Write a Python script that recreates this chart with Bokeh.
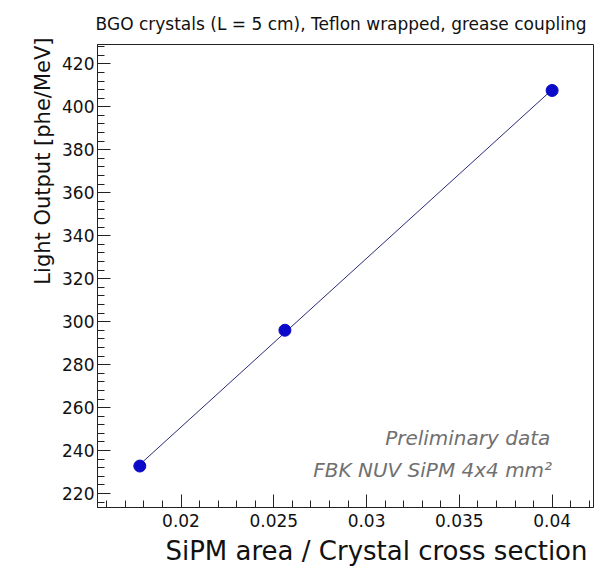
import numpy as np
from bokeh.plotting import figure
from bokeh.models import Range1d, FixedTicker, Label, Title
from bokeh.embed import file_html
from bokeh.resources import INLINE

# ---- data ----
area_ratio = [0.01778, 0.0256, 0.04]
light_output = [232.8, 296.0, 407.6]

x_tick_values = [0.02, 0.025, 0.03, 0.035, 0.04]
x_tick_labels = ["0.02", "0.025", "0.03", "0.035", "0.04"]
y_tick_values = [220, 240, 260, 280, 300, 320, 340, 360, 380, 400, 420]
y_tick_labels = [str(v) for v in y_tick_values]

subtitle = "BGO crystals (L = 5 cm), Teflon wrapped, grease coupling"
x_title = "SiPM area / Crystal cross section"
y_title = "Light Output [phe/MeV]"
note_lines = ["Preliminary data", "FBK NUV SiPM 4x4 mm\u00b2"]

FONT = "DejaVu Sans"

p = figure(width=610, height=569,
           x_range=Range1d(0.0155, 0.04223), y_range=Range1d(213.5, 429.0),
           output_backend="svg", toolbar_location=None,
           min_border_left=97, min_border_right=17,
           min_border_top=44, min_border_bottom=62)

p.background_fill_color = "white"
p.border_fill_color = "white"
p.outline_line_color = "#222222"
p.outline_line_width = 1
p.xgrid.visible = False
p.ygrid.visible = False

x_minor = [round(0.016 + 0.001 * i, 3) for i in range(27)]
y_minor = [216 + 4 * i for i in range(54)]

p.xaxis.ticker = FixedTicker(ticks=x_tick_values, minor_ticks=x_minor)
p.yaxis.ticker = FixedTicker(ticks=y_tick_values, minor_ticks=y_minor)
p.xaxis.major_label_overrides = {v: s for v, s in zip(x_tick_values, x_tick_labels)}
p.yaxis.major_label_overrides = {v: s for v, s in zip(y_tick_values, y_tick_labels)}

for ax in (p.xaxis, p.yaxis):
    ax.major_tick_in = 13
    ax.major_tick_out = 0
    ax.minor_tick_in = 7
    ax.minor_tick_out = 0
    ax.major_tick_line_color = "#222222"
    ax.minor_tick_line_color = "#222222"
    ax.axis_line_color = "#222222"
    ax.major_label_text_font = FONT
    ax.major_label_text_font_size = "17px"
    ax.major_label_text_color = "#111111"
    ax.axis_label = None
p.xaxis.major_label_standoff = 6
p.yaxis.major_label_standoff = 3

# fit line (least squares through the measured points)
slope, intercept = np.polyfit(area_ratio, light_output, 1)
fx = [min(area_ratio), max(area_ratio)]
fy = [slope * v + intercept for v in fx]
p.line(fx, fy, line_color="#2a2a7a", line_width=1)

p.scatter(area_ratio, light_output, size=12, marker="circle",
          fill_color="#0a0ac8", line_color="#0a0ac8")

# titles in the side panels
p.title.text = subtitle
p.title.align = "right"
p.title.text_font = FONT
p.title.text_font_size = "17px"
p.title.text_font_style = "normal"
p.title.text_color = "#111111"
p.title.standoff = 21
p.title.offset = 7

p.add_layout(Title(text=x_title, align="right", text_font=FONT,
                   text_font_size="26px", text_font_style="normal",
                   text_color="#111111", offset=6, standoff=8), "below")
p.add_layout(Title(text=y_title, align="right", text_font=FONT,
                   text_font_size="21px", text_font_style="normal",
                   text_color="#111111", offset=-7, standoff=9), "left")

# notes inside the frame
p.add_layout(Label(x=0.0399, y=245.7, text=note_lines[0], text_align="right",
                   text_baseline="alphabetic", text_font=FONT,
                   text_font_style="italic", text_font_size="20px",
                   text_color="#707070"))
p.add_layout(Label(x=0.04, y=230.8, text=note_lines[1], text_align="right",
                   text_baseline="alphabetic", text_font=FONT,
                   text_font_style="italic", text_font_size="20px",
                   text_color="#707070"))

open("out.html", "w").write(file_html(p, INLINE))
